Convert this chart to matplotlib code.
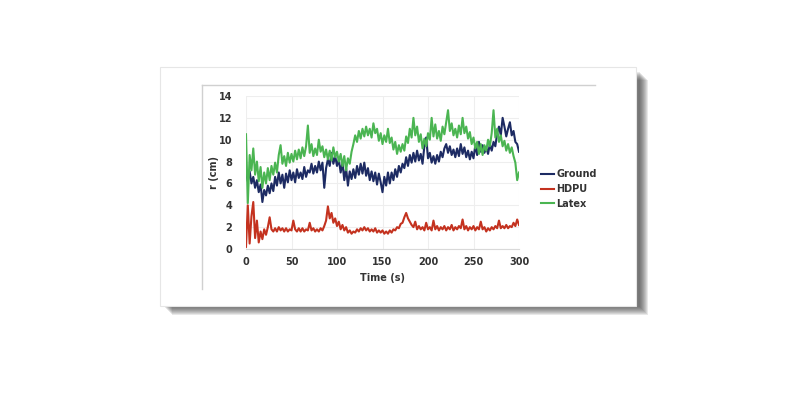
import numpy as np
import matplotlib.pyplot as plt
from matplotlib.patches import Rectangle
from matplotlib.lines import Line2D

W, H = 792, 404

# time axis, one sample every 2 s
time_s = np.arange(0, 301, 2)

ground = [7.0, 6.2, 7.1, 6.0, 6.6, 5.6, 6.3, 5.2, 5.9, 4.3,
          5.4, 4.9, 5.8, 5.1, 6.0, 5.3, 6.6, 5.8, 7.0, 6.0,
          6.8, 5.6, 6.9, 6.1, 7.2, 6.3, 7.0, 6.1, 7.3, 6.5,
          7.0, 6.4, 7.5, 6.6, 7.2, 7.0, 7.8, 6.9, 7.6, 7.0,
          8.0, 7.2, 7.9, 5.6, 7.4, 8.2, 7.6, 8.8, 7.8, 8.5,
          7.6, 8.2, 7.0, 7.9, 6.3, 7.4, 5.8, 7.1, 6.4, 7.3,
          6.5, 7.6, 6.8, 7.8, 6.9, 7.9, 6.7, 7.4, 6.3, 7.1,
          6.2, 7.0, 5.9, 6.9, 6.1, 5.2, 6.6, 5.8, 7.0, 6.0,
          7.0, 6.3, 7.3, 6.6, 7.6, 7.0, 7.8, 7.4, 8.4, 7.6,
          8.6, 7.9, 8.8, 8.0, 9.0, 8.1, 8.7, 7.8, 9.4, 10.2,
          8.3, 8.8, 7.9, 8.5, 7.8, 8.6, 8.0, 8.9, 8.4, 9.2,
          9.6, 8.8, 9.4, 8.6, 9.1, 8.4, 9.2, 8.5, 9.6, 8.7,
          9.3, 8.4, 9.0, 8.2, 8.9, 8.3, 9.5, 8.6, 9.8, 8.9,
          9.5, 8.8, 9.3, 8.7, 9.6, 9.0, 9.8, 9.4, 10.6, 11.2,
          10.4, 12.0, 11.2, 10.3, 11.0, 11.6, 10.4, 10.8, 9.8, 9.6,
          8.9]

hdpu = [0.2, 4.0, 0.5, 3.0, 4.3, 1.0, 2.6, 0.6, 1.6, 0.9,
        1.8, 1.3, 2.0, 2.9, 1.8, 1.6, 1.9, 1.6, 2.0, 1.7,
        1.9, 1.6, 1.9, 1.6, 1.8, 1.7, 2.6, 1.8, 1.6, 1.9,
        1.6, 1.9, 1.6, 1.8, 1.7, 2.4, 1.7, 1.9, 1.6, 1.8,
        1.6, 1.9, 1.7, 2.1, 2.6, 3.9, 2.8, 3.3, 2.4, 2.8,
        2.1, 2.5, 1.8, 2.2, 1.7, 2.0, 1.5, 1.7, 1.4, 1.6,
        1.5, 1.8, 1.6, 1.9, 1.7, 2.0, 1.7, 1.9, 1.6, 1.8,
        1.6, 1.9, 1.5, 1.7, 1.5, 1.7, 1.4, 1.6, 1.4, 1.7,
        1.5, 1.8, 1.7, 2.0, 1.9, 2.3, 2.4, 2.9, 3.3, 2.8,
        2.5, 2.2, 2.0, 2.5, 1.8, 2.1, 1.8, 2.0, 1.7, 2.4,
        1.8, 2.0, 1.7, 2.6, 1.8, 2.1, 1.7, 2.0, 1.8, 2.1,
        1.7, 2.0, 1.8, 2.2, 1.7, 2.0, 1.8, 2.1, 1.9, 2.7,
        1.8, 2.1, 1.7, 2.0, 1.8, 2.1, 1.7, 2.0, 1.8, 2.5,
        1.8, 2.0, 1.6, 1.9, 1.7, 2.0, 1.8, 2.1, 1.9, 2.6,
        1.9, 2.1, 1.9, 2.2, 1.9, 2.1, 2.0, 2.4, 2.1, 2.7,
        2.2]

latex = [10.5, 4.2, 8.6, 7.2, 9.2, 6.8, 8.0, 6.2, 7.5, 5.6,
         7.0, 6.0, 7.4, 6.3, 7.6, 6.8, 7.9, 7.0, 8.6, 9.5,
         7.8, 8.5, 7.6, 8.8, 7.9, 8.7, 8.0, 9.0, 8.2, 9.1,
         8.3, 9.3, 8.5, 9.4, 11.3, 8.8, 9.6, 8.5, 9.2, 8.6,
         10.0, 8.9, 9.4, 8.4, 9.1, 8.2, 9.0, 8.1, 9.3, 8.4,
         8.9, 8.0, 8.7, 7.6, 8.5, 7.2, 8.3, 7.8, 8.9, 9.6,
         10.4, 9.8, 10.8, 10.1, 11.0, 10.3, 11.2, 10.4, 11.0, 10.2,
         11.5, 10.6, 11.0, 9.9, 10.6, 9.6, 10.4, 9.8, 11.0, 9.7,
         10.2, 9.1, 9.8, 8.7, 9.5, 8.9, 9.6, 9.0, 10.3, 9.7,
         11.0, 10.2, 12.0, 10.4, 11.2, 9.8, 10.5, 9.2, 10.1, 9.4,
         10.6, 10.0, 12.0, 10.3, 11.4, 10.1, 10.8, 9.9, 11.2, 10.5,
         11.6, 12.7, 10.8, 11.5, 10.4, 11.0, 10.2, 11.3, 10.5, 12.0,
         10.6, 11.2, 10.1, 10.7, 9.6, 10.2, 9.2, 9.8, 8.7, 9.6,
         8.6, 9.5, 9.0, 10.0, 9.4, 10.6, 12.7, 10.2, 11.0, 9.8,
         10.4, 9.4, 9.9, 9.0, 9.6, 8.8, 9.3, 8.5, 7.9, 6.3,
         7.0]

series = [('Ground', ground, '#1d2b63'),
          ('HDPU', hdpu, '#c4321f'),
          ('Latex', latex, '#4bb552')]

x_ticks = [0, 50, 100, 150, 200, 250, 300]
y_ticks = [0, 2, 4, 6, 8, 10, 12, 14]

fig = plt.figure(figsize=(W / 100, H / 100), dpi=100)
fig.patch.set_facecolor('white')

def fx(px):
    return px / W

def fy(py):
    return 1 - py / H

# card shadow, drawn as a stack of offset grey rectangles
cx0, cy0, cx1, cy1 = 160, 67, 636, 306
for i in range(9, 0, -1):
    fig.patches.append(Rectangle((fx(cx0 + i + 3), fy(cy1 + i)),
                                 fx(cx1 - cx0), fy(cy0 + 4) - fy(cy1),
                                 transform=fig.transFigure, color='#303030',
                                 alpha=0.11, lw=0, zorder=0))
fig.patches.append(Rectangle((fx(cx0), fy(cy1)), fx(cx1 - cx0),
                             fy(cy0) - fy(cy1), transform=fig.transFigure,
                             facecolor='white', edgecolor='#e6e6e6', lw=0.8,
                             zorder=1))

# partial chart-area border
fig.lines.append(Line2D([fx(202), fx(202)], [fy(85), fy(289)],
                        transform=fig.transFigure, color='#d0d0d0', lw=1, zorder=2))
fig.lines.append(Line2D([fx(202), fx(595)], [fy(85), fy(85)],
                        transform=fig.transFigure, color='#d0d0d0', lw=1, zorder=2))

ax = fig.add_axes([fx(246), fy(249), fx(519 - 246), fy(96) - fy(249)])
ax.set_zorder(3)
ax.patch.set_alpha(0)

for name, vals, col in series:
    ax.plot(time_s, vals, color=col, lw=1.5, label=name)

ax.set_xlim(0, 300)
ax.set_ylim(0, 14)
ax.set_xticks(x_ticks)
ax.set_yticks(y_ticks)
ax.tick_params(length=0, labelsize=7, colors='#333333')
ax.tick_params(axis='x', pad=6)
ax.tick_params(axis='y', pad=10)
for lab in ax.get_xticklabels() + ax.get_yticklabels():
    lab.set_fontweight('bold')
ax.grid(True, color='#eeeeee', lw=0.8)
ax.set_axisbelow(True)
for s in ['top', 'right', 'left']:
    ax.spines[s].set_visible(False)
ax.spines['bottom'].set_color('#d9d9d9')

ax.set_xlabel('Time (s)', fontsize=7, fontweight='bold', color='#333333', labelpad=4)
ax.set_ylabel('r (cm)', fontsize=7, fontweight='bold', color='#333333')
ax.yaxis.set_label_coords(-0.10, 0.5)

leg = ax.legend(loc='center left', bbox_to_anchor=(fx(532), fy(189)),
                bbox_transform=fig.transFigure, frameon=False,
                handlelength=1.4, handletextpad=0.2, labelspacing=0.5,
                prop={'size': 7, 'weight': 'bold'})
for t in leg.get_texts():
    t.set_color('#333333')

fig.savefig('out.png', dpi=100, facecolor='white')
